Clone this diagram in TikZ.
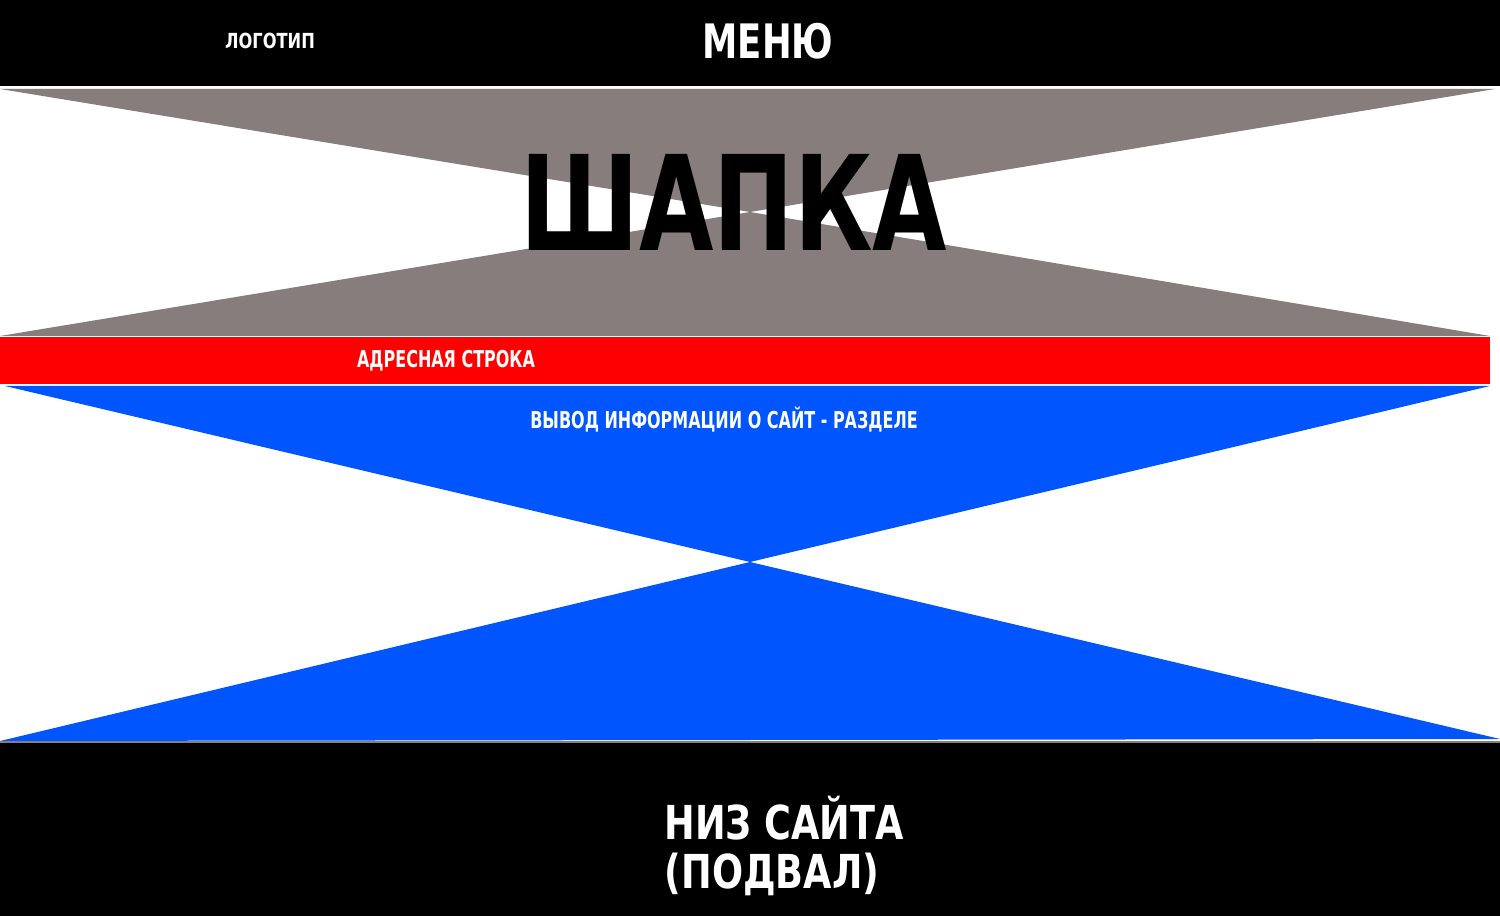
\documentclass[tikz,border=0pt]{standalone}
\usepackage{fontspec}
\setmainfont{DejaVu Sans Condensed}
\newfontfamily\shapkafont{DejaVu Sans Condensed}[FakeStretch=0.81]
\newfontfamily\menufont{DejaVu Sans Condensed}[FakeStretch=0.83]
\newfontfamily\logofont{DejaVu Sans Condensed}[FakeStretch=0.87]
\newfontfamily\strokafont{DejaVu Sans Condensed}[FakeStretch=0.765]

\definecolor{shapkagray}{RGB}{136,125,125}
\definecolor{vyvodblue}{RGB}{0,85,255}

\begin{document}
\begin{tikzpicture}[x=0.01cm,y=-0.01cm,
                    bar/.style={fill=black},
                    txt/.style={text=white,inner sep=0pt}]
                        \useasboundingbox (0,0) rectangle (1500,916);
                        \fill [white] (0,0) rectangle (1500,916);

                        % верх
                        \fill [bar] (0,0) rectangle (1500,86);
                        \node [txt,font=\logofont\bfseries\fontsize{5.9}{7}\selectfont] (logo) at (270,41) {ЛОГОТИП};
                        \node [txt,font=\menufont\bfseries\fontsize{13.5}{16}\selectfont] (menu) at (768,41) {МЕНЮ};

                        % шапка
                        \fill [shapkagray] (0,89)--(1495,89)--(750,212)--cycle;
                        \fill [shapkagray] (0,336)--(1490,336)--(750,212)--cycle;
                        \node [txt,text=black,font=\shapkafont\bfseries\fontsize{37.5}{44}\selectfont] (shapka) at (734,202) {ШАПКА};

                        % адресная строка
                        \fill [red] (0,337) rectangle (1490,384);
                        \node [txt,font=\strokafont\bfseries\fontsize{6.6}{8}\selectfont] (adres) at (446,361) {АДРЕСНАЯ СТРОКА};

                        % контент
                        \fill [vyvodblue] (5,386)--(1490,386)--(750,562)--cycle;
                        \fill [vyvodblue] (0,741)--(1500,739)--(750,562)--cycle;
                        \node [txt,font=\strokafont\bfseries\fontsize{6.6}{8}\selectfont] (vyvod) at (724,420) {ВЫВОД ИНФОРМАЦИИ О САЙТ - РАЗДЕЛЕ};

                        % подвал
                        \draw [shapkagray,line width=0.3pt] (0,742)--(1500,742);
                        \fill [bar] (0,743) rectangle (1500,916);
                        \node [txt,anchor=west,align=left,font=\logofont\bfseries\fontsize{13.3}{13.7}\selectfont] (podval) at (664,846) {НИЗ САЙТА\\(ПОДВАЛ)};
                    \end{tikzpicture}
\end{document}
